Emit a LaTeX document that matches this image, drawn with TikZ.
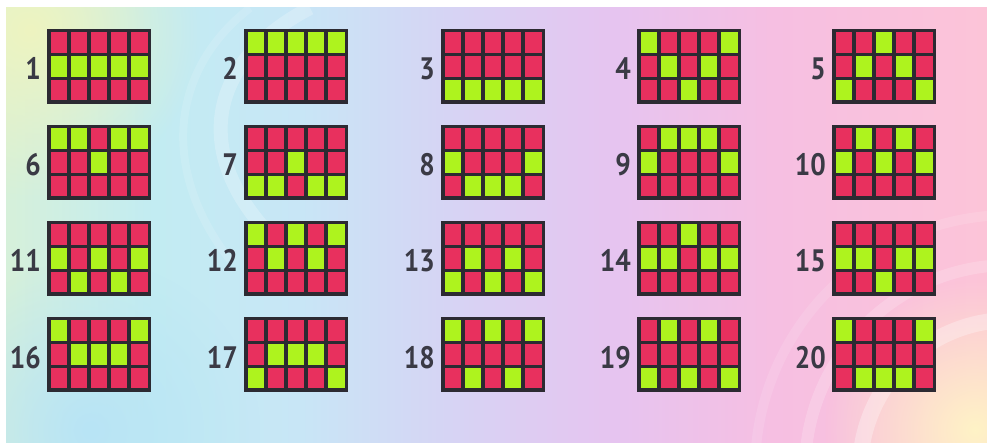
\documentclass[tikz,border=0pt]{standalone}
\usepackage{graphicx}
\usepackage{fontspec}
\setmainfont{PT Sans}
\usetikzlibrary{fadings}
\definecolor{cellp}{HTML}{E8305E}
\definecolor{cellg}{HTML}{AEF31E}
\definecolor{gridframe}{HTML}{2C2A32}
\definecolor{numcol}{HTML}{3A3A45}
\definecolor{bgA}{HTML}{D6F0DA}
\definecolor{bgB}{HTML}{C2ECF2}
\definecolor{bgC}{HTML}{C8E6F6}
\definecolor{bgD}{HTML}{D6D4F4}
\definecolor{bgE}{HTML}{E6C4F0}
\definecolor{bgF}{HTML}{F6BFE2}
\definecolor{bgG}{HTML}{FCC4D8}
\definecolor{glowY}{HTML}{EEF4C0}
\definecolor{glowB}{HTML}{B8E4F6}
\definecolor{glowR}{HTML}{FFF3C6}
\pgfdeclarehorizontalshading{bgshade}{100bp}{color(0bp)=(bgA); color(25bp)=(bgA); color(32.5bp)=(bgB); color(40bp)=(bgC); color(47.5bp)=(bgD); color(56bp)=(bgE); color(64bp)=(bgF); color(75bp)=(bgG); color(100bp)=(bgG)}
\tikzfading[name=glowfade, inner color=transparent!0, outer color=transparent!100]
\tikzset{
  numlabel/.style={anchor=base east, inner sep=0pt, text=numcol,
    font=\bfseries\fontsize{31}{31}\selectfont},
  swirl/.style={white, opacity=0.22, line width=14pt}
}
\begin{document}
\begin{tikzpicture}[x=1pt,y=-1pt]
\useasboundingbox (0,0) rectangle (987,443);
\fill[white] (0,0) rectangle (987,443);
\shade[shading=bgshade] (6,8) rectangle (987,443);
\begin{scope}
  \clip (6,8) rectangle (987,443);
  \fill[glowY, path fading=glowfade] (30,30) circle (170pt);
  \fill[glowB, path fading=glowfade] (90,430) circle (170pt);
  \fill[glowR, path fading=glowfade] (975,430) circle (150pt);
  \draw[swirl] (310,8) .. controls (210,60) and (190,150) .. (270,235);
  \draw[swirl, opacity=0.12, line width=8pt] (250,8) .. controls (170,70) and (160,170) .. (230,260);
  \draw[swirl, opacity=0.3, line width=16pt] (1010,470) circle (150pt);
  \draw[swirl, opacity=0.18, line width=12pt] (1010,470) circle (205pt);
  \draw[swirl, opacity=0.12, line width=10pt] (1010,470) circle (255pt);
\end{scope}
\foreach \n/\gx/\gy/\pa/\pb/\pc/\pd/\pe in {
1/47/29/1/1/1/1/1,
2/244/29/0/0/0/0/0,
3/441/29/2/2/2/2/2,
4/637/29/0/1/2/1/0,
5/832/29/2/1/0/1/2,
6/47/125/0/0/1/0/0,
7/244/125/2/2/1/2/2,
8/441/125/1/2/2/2/1,
9/637/125/1/0/0/0/1,
10/832/125/1/0/1/0/1,
11/47/221/1/2/1/2/1,
12/244/221/0/1/0/1/0,
13/441/221/2/1/2/1/2,
14/637/221/1/1/0/1/1,
15/832/221/1/1/2/1/1,
16/47/317/0/1/1/1/0,
17/244/317/2/1/1/1/2,
18/441/317/0/2/0/2/0,
19/637/317/2/0/2/0/2,
20/832/317/0/2/2/2/0}{
  \fill[gridframe] (\gx,\gy) rectangle ++(104,75);
  \foreach \c/\g in {0/\pa,1/\pb,2/\pc,3/\pd,4/\pe}{
    \foreach \r in {0,1,2}{
      \ifnum\r=\g\relax\def\cc{cellg}\else\def\cc{cellp}\fi
      \fill[\cc] (\gx+3.5+\c*20.1,\gy+3.5+\r*23.8) rectangle ++(16.6,20.3);
    }
  }
  \node[numlabel] (L\n) at (\gx-6,\gy+51) {\scalebox{0.88}[1]{\n}};
}
\end{tikzpicture}
\end{document}
